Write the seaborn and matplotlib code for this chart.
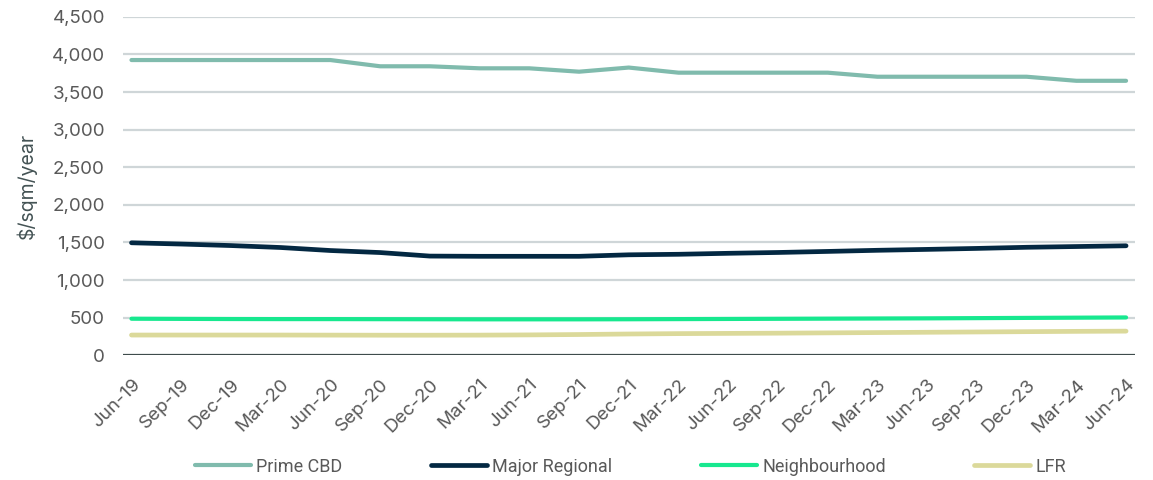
import numpy as np
import pandas as pd
import matplotlib
matplotlib.use("Agg")
import matplotlib.pyplot as plt
import seaborn as sns

quarters = ["Jun-19", "Sep-19", "Dec-19", "Mar-20", "Jun-20", "Sep-20", "Dec-20",
            "Mar-21", "Jun-21", "Sep-21", "Dec-21", "Mar-22", "Jun-22", "Sep-22",
            "Dec-22", "Mar-23", "Jun-23", "Sep-23", "Dec-23", "Mar-24", "Jun-24"]

prime_cbd = [3925, 3925, 3925, 3925, 3925, 3842, 3842, 3815, 3815, 3770, 3825,
             3757, 3757, 3757, 3757, 3703, 3703, 3703, 3703, 3649, 3649]
major_regional = [1495, 1478, 1458, 1432, 1392, 1365, 1318, 1315, 1315, 1315, 1335,
                  1342, 1355, 1366, 1380, 1395, 1407, 1420, 1435, 1445, 1455]
neighbourhood = [485, 483, 481, 480, 480, 479, 478, 477, 477, 477, 478,
                 480, 482, 484, 486, 488, 490, 493, 496, 499, 502]
lfr = [268, 268, 268, 268, 267, 266, 266, 267, 270, 275, 282,
       287, 290, 293, 297, 301, 305, 309, 313, 317, 320]

series_names = ["Prime CBD", "Major Regional", "Neighbourhood", "LFR"]
series_values = [prime_cbd, major_regional, neighbourhood, lfr]
colors = ["#80BBAD", "#032842", "#17E88F", "#DBD99A"]
widths = [3.0, 3.4, 3.0, 3.4]

y_ticks = list(range(0, 4501, 500))

frames = []
for name, vals in zip(series_names, series_values):
    frames.append(pd.DataFrame({"idx": np.arange(len(quarters)),
                                "value": vals, "series": name}))
df = pd.concat(frames, ignore_index=True)

sns.set_theme(style="white")
plt.rcParams["font.family"] = ["Inter", "DejaVu Sans"]

fig = plt.figure(figsize=(11.53, 4.8), dpi=100)
ax = fig.add_axes([0.1067, 0.26, 0.8777, 0.705])

for y in y_ticks[1:]:
    ax.axhline(y, color="#CFD6D8", lw=1.6, zorder=0)
ax.axhline(0, color="#3F4C4C", lw=1.6, zorder=1)

handles = []
for name, col, lw in zip(series_names, colors, widths):
    sub = df[df["series"] == name]
    sns.lineplot(data=sub, x="idx", y="value", color=col, lw=lw, ax=ax,
                 solid_capstyle="round", zorder=3, legend=False)
    handles.append(plt.Line2D([], [], color=col, lw=lw, solid_capstyle="round"))

ax.set_xlim(-0.17, len(quarters) - 1 + 0.18)
ax.set_ylim(0, 4500)
ax.set_yticks(y_ticks)
ax.set_yticklabels([f"{v:,}" for v in y_ticks], fontsize=13.5, color="#595959")
ax.set_xticks(np.arange(len(quarters)))
ax.set_xticklabels(quarters, rotation=45, ha="right", rotation_mode="anchor",
                   fontsize=13.5, color="#595959")
ax.tick_params(axis="y", length=0, pad=13)
ax.tick_params(axis="x", length=0, pad=15)
ax.set_xlabel("")
ax.set_ylabel("$/sqm/year", fontsize=14, color="#435254")
ax.yaxis.set_label_coords(-0.085, 0.5)
for s in ax.spines.values():
    s.set_visible(False)

fig.legend(handles, series_names, loc="center", bbox_to_anchor=(0.547, 0.028),
           ncol=4, frameon=False, handlelength=3.1, handletextpad=0.3,
           columnspacing=4.9, labelcolor="#595959",
           prop={"family": ["Roboto", "DejaVu Sans"], "size": 13})

fig.savefig("out.png", dpi=100)
